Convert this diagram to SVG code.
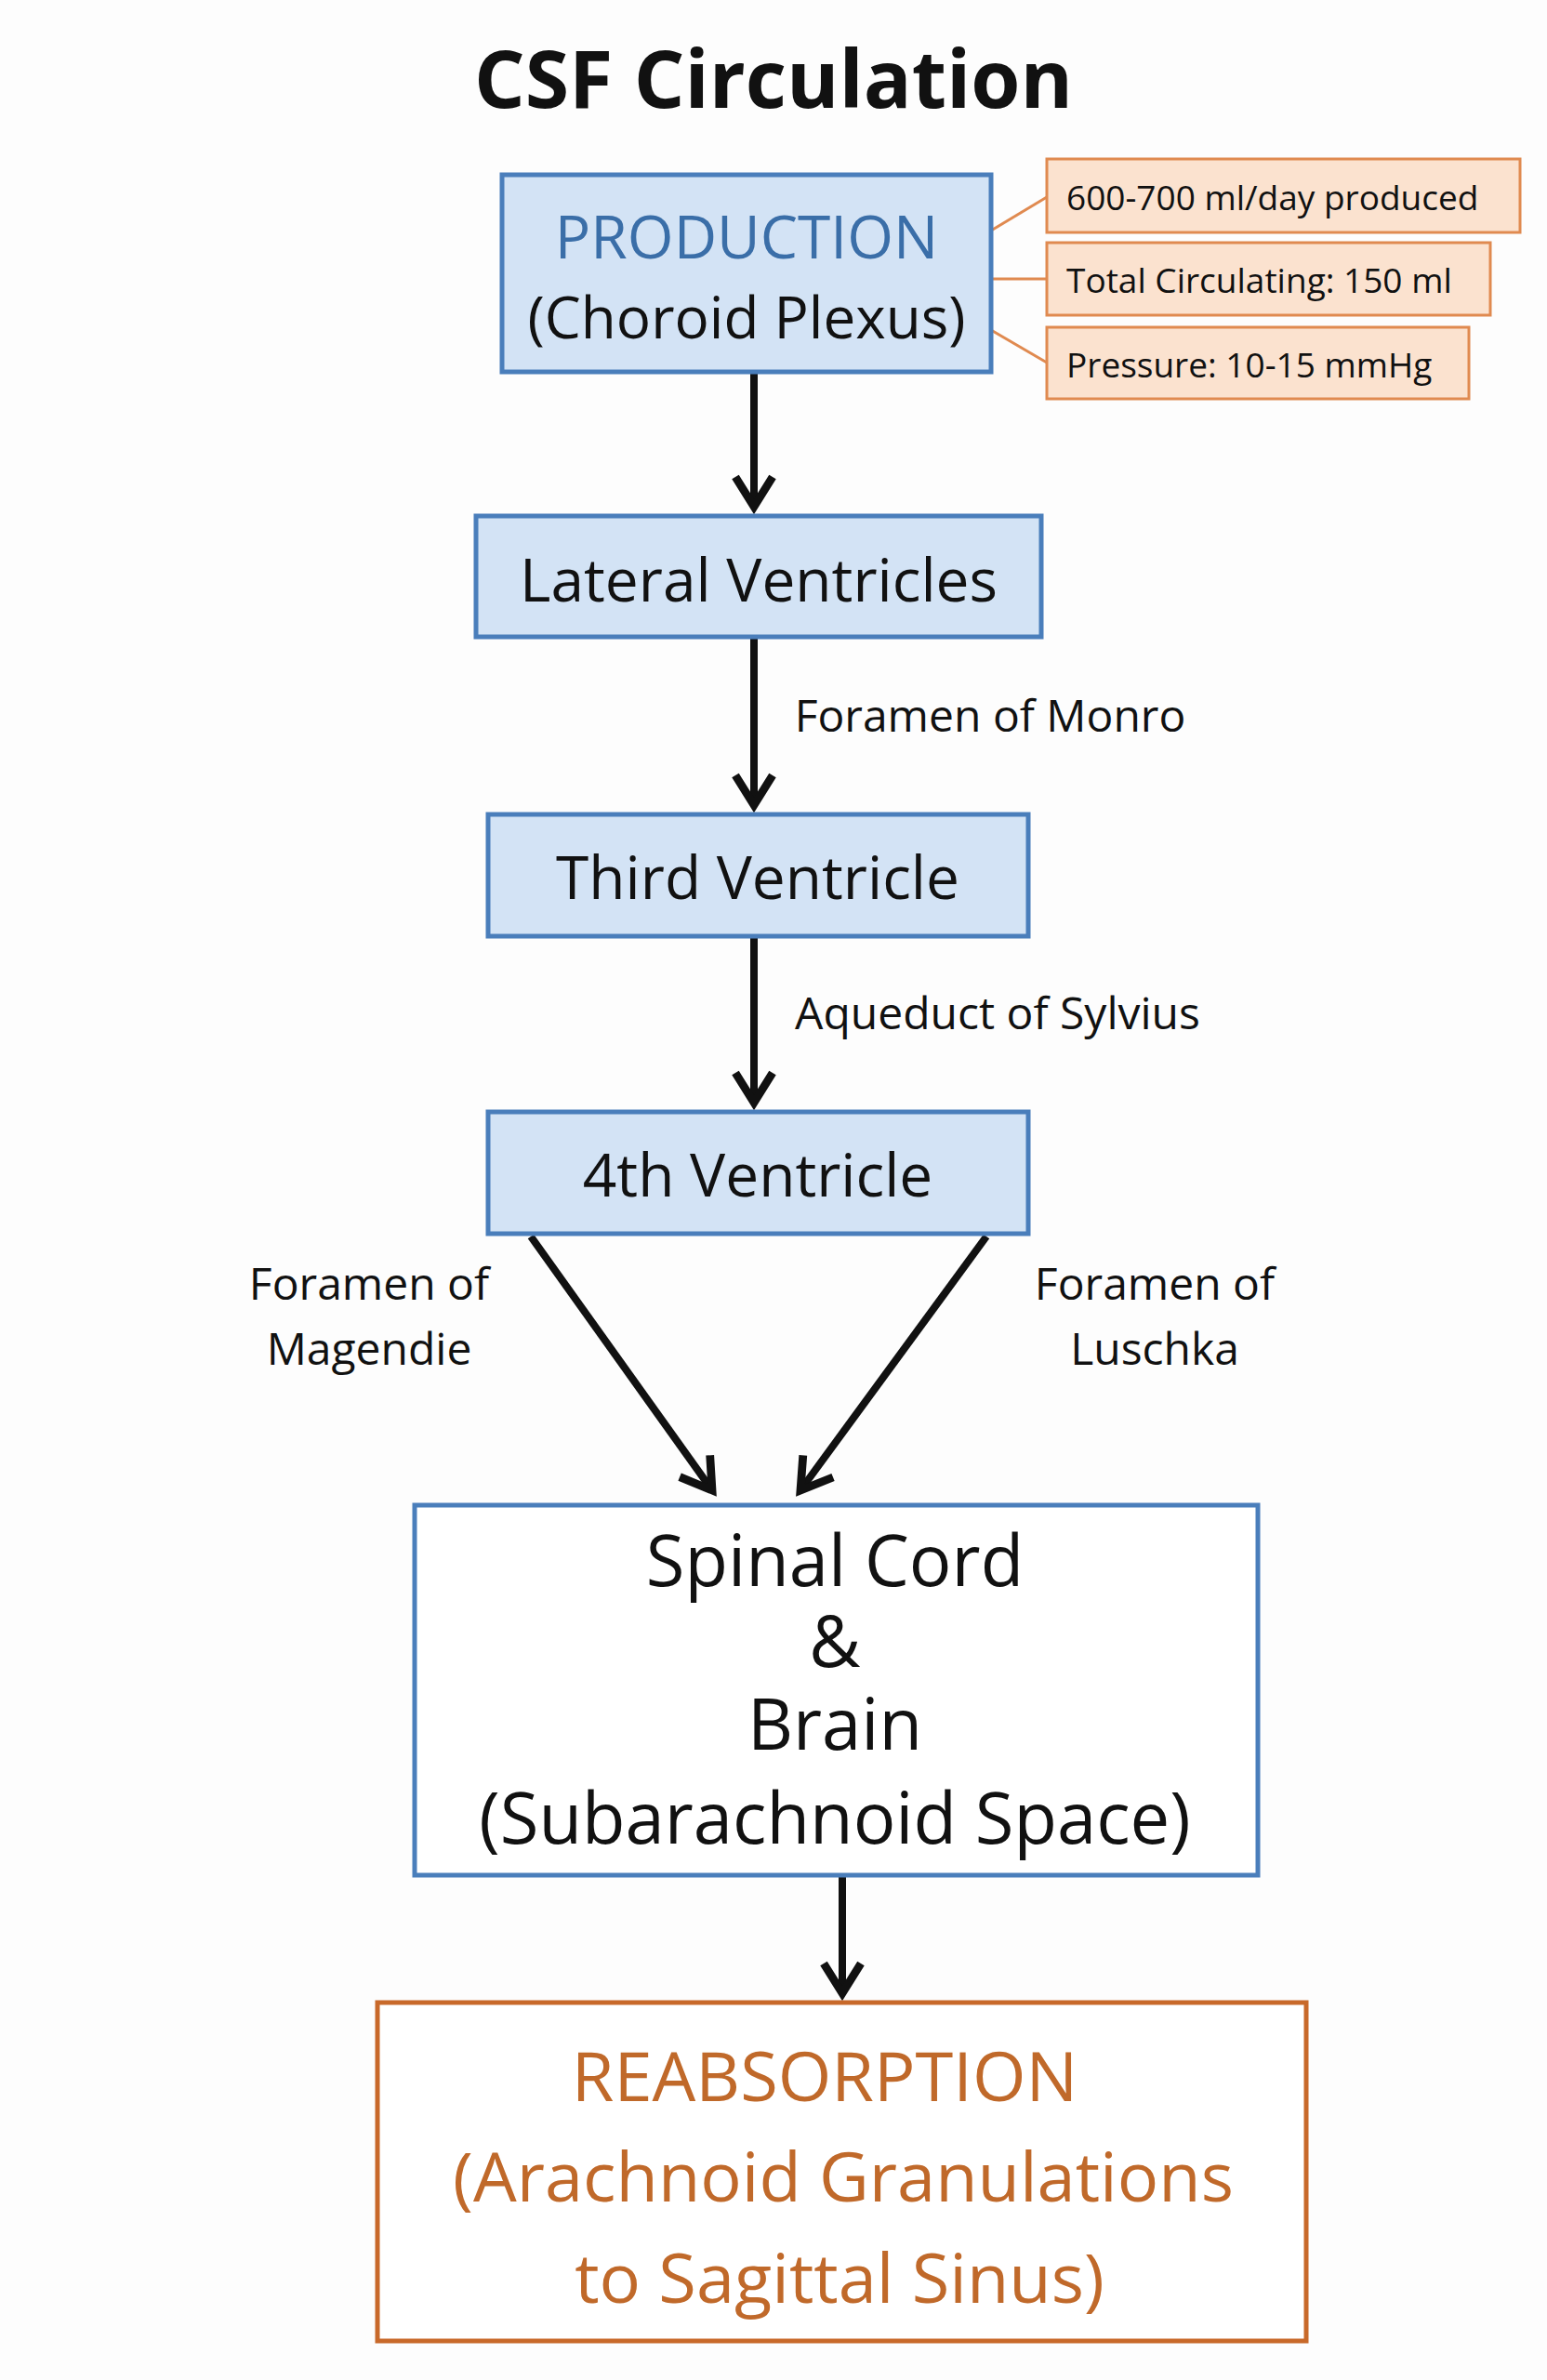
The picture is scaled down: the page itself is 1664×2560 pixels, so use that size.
<svg xmlns="http://www.w3.org/2000/svg" width="1664" height="2560" viewBox="0 0 1664 2560">
<style>
text{font-family:"Open Sans","Liberation Sans",sans-serif;text-anchor:middle;dominant-baseline:central;fill:#111}
.blue{fill:#d3e3f5;stroke:#4a7ebb;stroke-width:5}
.white{fill:#fff;stroke:#4a7ebb;stroke-width:5}
.org{fill:#fbe2cf;stroke:#e08a50;stroke-width:3}
.ob{fill:#fff;stroke:#c8692a;stroke-width:5}
.arr{stroke:#111;stroke-width:8;fill:none;marker-end:url(#ah)}
.thin{stroke:#e08a50;stroke-width:3;fill:none}
.sm{font-size:37px;text-anchor:start}
.lbl{font-size:48px}
.n{font-size:64px}
</style>
<defs>
<marker id="ah" markerWidth="6" markerHeight="6" refX="4.5" refY="3" orient="auto" markerUnits="strokeWidth">
<polyline points="0.5,0.5 4.5,3 0.5,5.5" fill="none" stroke="#111" stroke-width="1.1" stroke-linejoin="miter"/>
</marker>
</defs>
<rect width="1664" height="2560" fill="#fdfdfd"/>
<text x="832" y="82" font-size="86" font-weight="bold">CSF Circulation</text>
<g id="connectors">
<line class="arr" x1="811" y1="400" x2="811" y2="545"/>
<line class="arr" x1="811" y1="685" x2="811" y2="866"/>
<line class="arr" x1="811" y1="1007" x2="811" y2="1186"/>
<line class="arr" x1="571" y1="1330" x2="766" y2="1603"/>
<line class="arr" x1="1061" y1="1330" x2="861" y2="1603"/>
<line class="arr" x1="906" y1="2017" x2="906" y2="2144"/>
<line class="thin" x1="1066" y1="248" x2="1126" y2="212"/>
<line class="thin" x1="1066" y1="300" x2="1126" y2="300"/>
<line class="thin" x1="1066" y1="355" x2="1126" y2="390"/>
<text class="lbl" x="1065" y="768">Foramen of Monro</text>
<text class="lbl" x="1073" y="1088">Aqueduct of Sylvius</text>
<text class="lbl" x="397" y="1379">Foramen of</text>
<text class="lbl" x="397" y="1449">Magendie</text>
<text class="lbl" x="1242" y="1379">Foramen of</text>
<text class="lbl" x="1242" y="1449">Luschka</text>
</g>
<g id="production">
<rect class="blue" x="540" y="188" width="526" height="212"/>
<text x="803" y="253" font-size="64" style="fill:#3a6ea8">PRODUCTION</text>
<text x="803" y="340" font-size="62">(Choroid Plexus)</text>
</g>
<g id="fact1"><rect class="org" x="1126" y="171" width="509" height="79"/><text class="sm" x="1147" y="211">600-700 ml/day produced</text></g>
<g id="fact2"><rect class="org" x="1126" y="261" width="477" height="78"/><text class="sm" x="1147" y="300">Total Circulating: 150 ml</text></g>
<g id="fact3"><rect class="org" x="1126" y="352" width="454" height="77"/><text class="sm" x="1147" y="391">Pressure: 10-15 mmHg</text></g>
<g id="lateral"><rect class="blue" x="512" y="555" width="608" height="130"/><text class="n" x="816" y="622">Lateral Ventricles</text></g>
<g id="third"><rect class="blue" x="525" y="876" width="581" height="131"/><text class="n" x="815" y="942">Third Ventricle</text></g>
<g id="fourth"><rect class="blue" x="525" y="1196" width="581" height="131"/><text class="n" x="815" y="1262">4th Ventricle</text></g>
<g id="subarachnoid">
<rect class="white" x="446" y="1619" width="907" height="398"/>
<text x="898" y="1676" font-size="76">Spinal Cord</text>
<text x="898" y="1763" font-size="76">&amp;</text>
<text x="898" y="1852" font-size="76">Brain</text>
<text x="898" y="1953" font-size="76">(Subarachnoid Space)</text>
</g>
<g id="reabsorption">
<rect class="ob" x="406" y="2154" width="999" height="364"/>
<text x="887" y="2231" font-size="74" style="fill:#c0692a">REABSORPTION</text>
<text x="907" y="2339" font-size="74" style="fill:#c0692a">(Arachnoid Granulations</text>
<text x="903" y="2448" font-size="74" style="fill:#c0692a">to Sagittal Sinus)</text>
</g>
</svg>
